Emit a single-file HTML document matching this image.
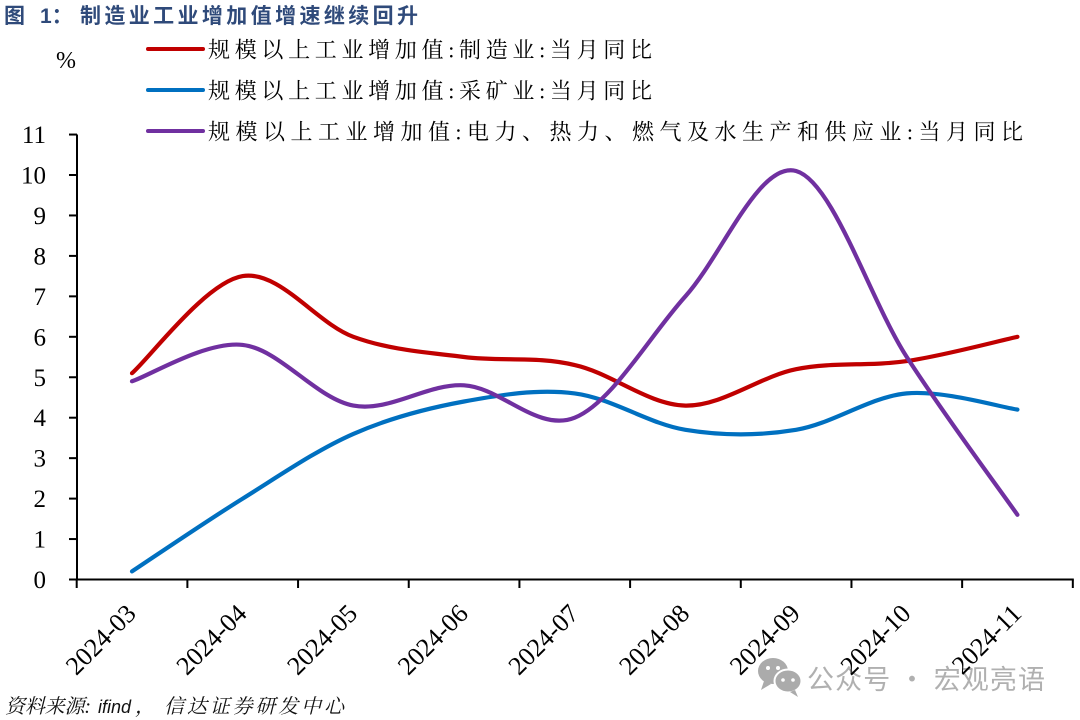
<!DOCTYPE html>
<html><head><meta charset="utf-8"><style>
html,body{margin:0;padding:0;background:#fff;}
svg{display:block;}
</style></head><body>
<svg width="1080" height="720" viewBox="0 0 1080 720" xmlns="http://www.w3.org/2000/svg">
<rect width="1080" height="720" fill="#ffffff"/>
<!-- Title -->
<text x="4" y="23" font-family="'Liberation Sans','Noto Sans CJK SC',sans-serif" font-size="21" font-weight="bold" fill="#2F4A7A">图</text>
<text x="40" y="23" font-family="'Liberation Sans','Noto Sans CJK SC',sans-serif" font-size="21" font-weight="bold" fill="#2F4A7A">1：</text>
<text x="80" y="23" font-family="'Liberation Sans','Noto Sans CJK SC',sans-serif" font-size="21" font-weight="bold" fill="#2F4A7A" textLength="338" lengthAdjust="spacing">制造业工业增加值增速继续回升</text>

<!-- % -->
<text x="56" y="68" font-family="'Liberation Serif',serif" font-size="24" fill="#000">%</text>

<!-- Legend -->
<line x1="148" y1="49" x2="203" y2="49" stroke="#C00000" stroke-width="4" stroke-linecap="round"/>
<text x="208" y="57.5" font-family="'Liberation Serif','Noto Serif CJK SC',serif" font-size="22" fill="#000" textLength="444" lengthAdjust="spacing">规模以上工业增加值:制造业:当月同比</text>
<line x1="148" y1="90" x2="203" y2="90" stroke="#0070C0" stroke-width="4" stroke-linecap="round"/>
<text x="208" y="98.5" font-family="'Liberation Serif','Noto Serif CJK SC',serif" font-size="22" fill="#000" textLength="444" lengthAdjust="spacing">规模以上工业增加值:采矿业:当月同比</text>
<line x1="148" y1="131" x2="203" y2="131" stroke="#7030A0" stroke-width="4" stroke-linecap="round"/>
<text x="208" y="139.5" font-family="'Liberation Serif','Noto Serif CJK SC',serif" font-size="22" fill="#000" textLength="815" lengthAdjust="spacing">规模以上工业增加值:电力、热力、燃气及水生产和供应业:当月同比</text>

<!-- Y axis labels -->
<g font-family="'Liberation Serif',serif" font-size="25" fill="#000" text-anchor="end">
<text x="46" y="588">0</text>
<text x="46" y="547.55">1</text>
<text x="46" y="507.1">2</text>
<text x="46" y="466.65">3</text>
<text x="46" y="426.2">4</text>
<text x="46" y="385.75">5</text>
<text x="46" y="345.3">6</text>
<text x="46" y="304.85">7</text>
<text x="46" y="264.4">8</text>
<text x="46" y="223.95">9</text>
<text x="46" y="183.5">10</text>
<text x="46" y="143.05">11</text>
</g>

<!-- Axes -->
<g stroke="#000" stroke-width="2">
<line x1="77" y1="134.5" x2="77" y2="580.5"/>
<line x1="69" y1="579.5" x2="1073.8" y2="579.5"/>
<line x1="69" y1="539.05" x2="77" y2="539.05"/>
<line x1="69" y1="498.6" x2="77" y2="498.6"/>
<line x1="69" y1="458.15" x2="77" y2="458.15"/>
<line x1="69" y1="417.7" x2="77" y2="417.7"/>
<line x1="69" y1="377.25" x2="77" y2="377.25"/>
<line x1="69" y1="336.8" x2="77" y2="336.8"/>
<line x1="69" y1="296.35" x2="77" y2="296.35"/>
<line x1="69" y1="255.9" x2="77" y2="255.9"/>
<line x1="69" y1="215.45" x2="77" y2="215.45"/>
<line x1="69" y1="175" x2="77" y2="175"/>
<line x1="69" y1="134.55" x2="77" y2="134.55"/>
<line x1="76.7" y1="579.5" x2="76.7" y2="588"/>
<line x1="187.38" y1="579.5" x2="187.38" y2="588"/>
<line x1="298.06" y1="579.5" x2="298.06" y2="588"/>
<line x1="408.74" y1="579.5" x2="408.74" y2="588"/>
<line x1="519.42" y1="579.5" x2="519.42" y2="588"/>
<line x1="630.1" y1="579.5" x2="630.1" y2="588"/>
<line x1="740.78" y1="579.5" x2="740.78" y2="588"/>
<line x1="851.46" y1="579.5" x2="851.46" y2="588"/>
<line x1="962.14" y1="579.5" x2="962.14" y2="588"/>
<line x1="1072.82" y1="579.5" x2="1072.82" y2="588"/>
</g>

<!-- Series -->
<g fill="none" stroke-width="4.2" stroke-linecap="round" stroke-linejoin="round">
<path stroke="#C00000" d="M132,373.2 C150.45,357.02 205.79,282.17 242.68,276.1 C279.57,270.03 316.47,323.32 353.36,336.8 C390.25,350.28 427.15,352.28 464.04,357.0 C500.93,361.72 537.83,356.0 574.72,365.1 C611.61,373.2 648.51,404.92 685.4,405.6 C722.29,406.28 759.19,376.62 796.08,369.2 C832.97,361.78 869.87,366.5 906.76,361.1 C943.65,355.7 998.99,340.85 1017.44,336.8"/>
<path stroke="#0070C0" d="M132,571.4 C150.45,559.27 205.79,521.52 242.68,498.6 C279.57,475.68 316.47,450.08 353.36,433.9 C390.25,417.72 427.15,408.25 464.04,401.5 C500.93,394.75 537.83,388.68 574.72,393.4 C611.61,398.12 648.51,423.73 685.4,429.8 C722.29,435.87 759.19,435.87 796.08,429.8 C832.97,423.73 869.87,396.77 906.76,393.4 C943.65,390.03 998.99,406.9 1017.44,409.6"/>
<path stroke="#7030A0" d="M132,381.3 C150.45,375.23 205.79,340.85 242.68,344.9 C279.57,348.95 316.47,398.87 353.36,405.6 C390.25,412.33 427.15,383.28 464.04,385.3 C500.93,387.32 537.83,432.53 574.72,417.7 C611.61,402.87 648.51,337.42 685.4,296.3 C722.29,255.18 759.19,160.88 796.08,171.0 C832.97,181.12 869.87,299.7 906.76,357.0 C943.65,414.3 998.99,488.5 1017.44,514.8"/>
</g>

<!-- Watermark -->
<g>
<ellipse cx="773" cy="671" rx="15" ry="13" fill="#ababab"/>
<path d="M764,681 L761,690 L771,684 Z" fill="#ababab"/>
<ellipse cx="788" cy="681" rx="13.5" ry="11.5" fill="#ababab" stroke="#fff" stroke-width="2"/>
<path d="M795,690 L798,697 L790,692 Z" fill="#ababab"/>
<circle cx="768" cy="668" r="2" fill="#fff"/>
<circle cx="778" cy="668" r="2" fill="#fff"/>
<circle cx="783" cy="680" r="1.8" fill="#fff"/>
<circle cx="793" cy="680" r="1.8" fill="#fff"/>
<text x="807" y="689" font-family="'Noto Sans CJK SC',sans-serif" font-size="27" fill="#b0b0b0" textLength="238" lengthAdjust="spacing">公众号 · 宏观亮语</text>
</g>

<!-- X labels -->
<g font-family="'Liberation Serif',serif" font-size="26" fill="#000" text-anchor="end">
<text x="137.5" y="615" transform="rotate(-45 137.5 615)">2024-03</text>
<text x="248.18" y="615" transform="rotate(-45 248.18 615)">2024-04</text>
<text x="358.86" y="615" transform="rotate(-45 358.86 615)">2024-05</text>
<text x="469.54" y="615" transform="rotate(-45 469.54 615)">2024-06</text>
<text x="580.22" y="615" transform="rotate(-45 580.22 615)">2024-07</text>
<text x="690.9" y="615" transform="rotate(-45 690.9 615)">2024-08</text>
<text x="801.58" y="615" transform="rotate(-45 801.58 615)">2024-09</text>
<text x="912.26" y="615" transform="rotate(-45 912.26 615)">2024-10</text>
<text x="1022.94" y="615" transform="rotate(-45 1022.94 615)">2024-11</text>
</g>

<!-- Footer -->
<text x="5" y="713" font-family="'Liberation Serif','Noto Serif CJK SC',serif" font-size="20" font-style="italic" fill="#111" textLength="86" lengthAdjust="spacing">资料来源:</text>
<text x="98" y="713" font-family="'Liberation Sans',sans-serif" font-size="18" font-style="italic" fill="#111">ifind</text>
<text x="135" y="713" font-family="'Liberation Serif','Noto Serif CJK SC',serif" font-size="20" font-style="italic" fill="#111">，</text>
<text x="164" y="713" font-family="'Liberation Serif','Noto Serif CJK SC',serif" font-size="20" font-style="italic" fill="#111" textLength="180" lengthAdjust="spacing">信达证券研发中心</text>
</svg>
</body></html>
